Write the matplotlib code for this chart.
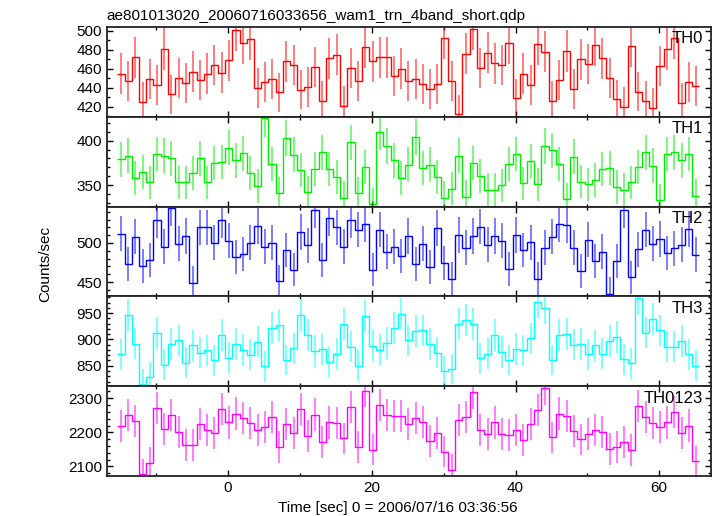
import numpy as np
import matplotlib
matplotlib.use("Agg")
import matplotlib.pyplot as plt
from matplotlib.ticker import MultipleLocator

plt.rcParams['font.family'] = ['Liberation Sans', 'DejaVu Sans']

# 1 s bins, time relative to 2006/07/16 03:36:56
t_first_edge = -15.4
n_bins = 81

th0 = [455, 447, 472, 425, 449, 443, 481, 433, 450, 445,
       457, 448, 455, 464, 456, 469, 501, 487, 492, 440,
       446, 449, 435, 468, 464, 438, 441, 462, 426, 471,
       475, 421, 461, 447, 483, 468, 472, 472, 452, 460,
       447, 449, 444, 439, 444, 493, 447, 412, 476, 502,
       461, 477, 466, 464, 487, 429, 455, 443, 486, 478,
       426, 448, 479, 439, 470, 465, 485, 471, 450, 428,
       420, 484, 436, 426, 419, 463, 481, 493, 424, 446,
       442]
th1 = [379, 383, 358, 365, 353, 385, 383, 380, 353, 353,
       364, 380, 353, 375, 376, 392, 378, 386, 364, 349,
       425, 374, 341, 403, 384, 367, 342, 368, 387, 368,
       359, 336, 398, 341, 370, 329, 410, 394, 378, 358,
       373, 404, 369, 373, 359, 336, 346, 383, 337, 375,
       360, 345, 345, 350, 374, 385, 352, 377, 351, 394,
       389, 374, 334, 382, 354, 351, 356, 368, 369, 348,
       345, 353, 370, 387, 372, 333, 385, 387, 378, 385,
       338]
th2 = [512, 473, 508, 471, 478, 529, 495, 545, 499, 509,
       449, 520, 520, 500, 529, 503, 482, 486, 500, 522,
       495, 500, 451, 491, 466, 514, 497, 542, 478, 532,
       520, 495, 529, 517, 524, 466, 517, 489, 495, 483,
       509, 473, 499, 469, 519, 474, 454, 510, 494, 509,
       521, 498, 509, 503, 467, 510, 491, 501, 454, 494,
       508, 524, 523, 494, 464, 504, 477, 489, 435, 477,
       542, 456, 492, 517, 499, 505, 487, 493, 498, 518,
       485]
th3 = [872, 946, 892, 816, 828, 912, 852, 891, 898, 856,
       889, 875, 879, 860, 908, 865, 891, 880, 871, 896,
       849, 921, 928, 861, 883, 946, 909, 878, 881, 857,
       873, 929, 886, 850, 944, 888, 880, 893, 921, 948,
       898, 916, 917, 891, 875, 840, 844, 929, 937, 929,
       864, 873, 908, 876, 861, 882, 879, 902, 971, 960,
       861, 909, 910, 890, 891, 872, 889, 873, 897, 905,
       862, 855, 978, 913, 939, 917, 886, 886, 897, 872,
       850]
th0123 = [2219, 2250, 2232, 2077, 2110, 2271, 2210, 2250, 2201, 2163,
          2163, 2224, 2207, 2198, 2269, 2229, 2255, 2241, 2227, 2206,
          2216, 2245, 2156, 2224, 2198, 2268, 2189, 2252, 2172, 2229,
          2227, 2182, 2275, 2156, 2322, 2149, 2281, 2250, 2249, 2249,
          2225, 2243, 2231, 2174, 2199, 2143, 2090, 2235, 2246, 2318,
          2208, 2194, 2229, 2194, 2191, 2206, 2177, 2224, 2265, 2330,
          2185, 2255, 2247, 2205, 2179, 2194, 2207, 2201, 2151, 2157,
          2171, 2148, 2277, 2246, 2228, 2217, 2229, 2259, 2197, 2220,
          2115]

names = ["TH0", "TH1", "TH2", "TH3", "TH0123"]
series = [th0, th1, th2, th3, th0123]
colors = ["#ff0000", "#00ee00", "#0000ff", "#00ffff", "#ff00ff"]
ylims = [(409.5, 504.5), (326, 427), (431.6, 546.6), (810.8, 981.6), (2070.6, 2335)]
major = [20, 50, 50, 50, 100]
minor = [10, 10, 10, 10, 20]

edges = t_first_edge + np.arange(n_bins + 1)
centers = edges[:-1] + 0.5

fig, axes = plt.subplots(5, 1, sharex=True, figsize=(7.17, 5.16), dpi=100)
fig.subplots_adjust(left=0.1488, right=0.9916, top=0.9483, bottom=0.0769, hspace=0)

for ax, name, y, c, yl, mj, mn in zip(axes, names, series, colors, ylims, major, minor):
    y = np.array(y, dtype=float)
    err = np.sqrt(y)  # counts/sec in 1 s bins
    ax.vlines(centers, y - err, y + err, color=c, lw=1.3, alpha=0.55)
    ax.stairs(y, edges, color=c, lw=1.0, baseline=None)
    ax.set_ylim(*yl)
    ax.set_xlim(-16.9, 67.2)
    ax.yaxis.set_major_locator(MultipleLocator(mj))
    ax.yaxis.set_minor_locator(MultipleLocator(mn))
    ax.xaxis.set_major_locator(MultipleLocator(20))
    ax.xaxis.set_minor_locator(MultipleLocator(10))
    ax.tick_params(which='both', direction='in', top=True, right=True, labelsize=11)
    ax.tick_params(which='major', length=4.5, width=1)
    ax.tick_params(which='minor', length=2.5, width=1)
    for s in ax.spines.values():
        s.set_linewidth(1.3)
        s.set_color('#222222')
    ax.text(0.987, 0.95, name, transform=ax.transAxes, ha='right', va='top', fontsize=12)

fig.text(106.7 / 717, 1 - 20 / 516, "ae801013020_20060716033656_wam1_trn_4band_short.qdp",
         ha='left', va='baseline', fontsize=11)
fig.text(397.5 / 717, 1 - 512 / 516, "Time [sec] 0 = 2006/07/16 03:36:56",
         ha='center', va='baseline', fontsize=11)
fig.text(45 / 717, 0.488, "Counts/sec", rotation=90, ha='center', va='center', fontsize=11)

fig.savefig("out.png", dpi=100)
